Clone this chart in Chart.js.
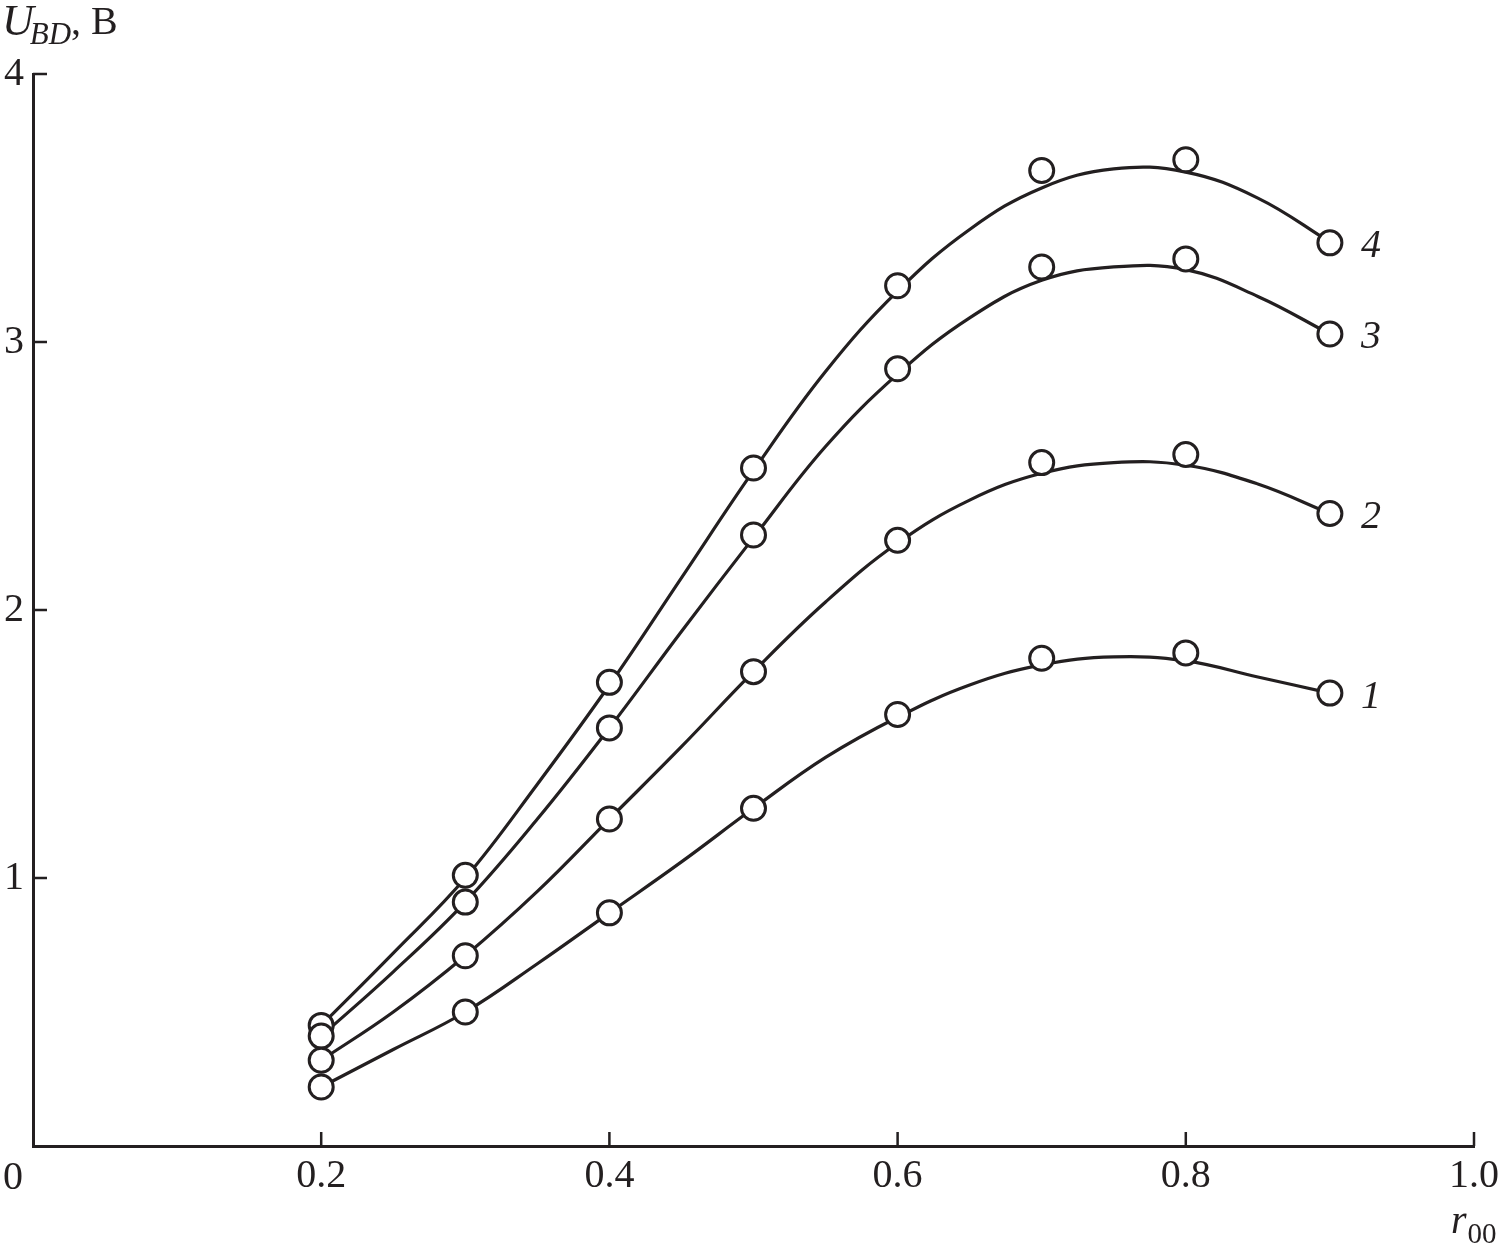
<!DOCTYPE html>
<html>
<head>
<meta charset="utf-8">
<script src="https://cdn.jsdelivr.net/npm/chart.js@4.4.1/dist/chart.umd.min.js"></script>
<style>
  html, body { margin: 0; padding: 0; background: #fff; }
  canvas { display: block; }
</style>
</head>
<body>
<canvas id="chart" width="1499" height="1254"></canvas>
<script>
// --- data ---
const xMeasured = [0.2, 0.3, 0.4, 0.5, 0.6, 0.7, 0.8, 0.9];
const measured1 = [0.22, 0.50, 0.87, 1.26, 1.61, 1.82, 1.84, 1.69];
const measured2 = [0.32, 0.71, 1.22, 1.77, 2.26, 2.55, 2.58, 2.36];
const measured3 = [0.41, 0.91, 1.56, 2.28, 2.90, 3.28, 3.31, 3.03];
const measured4 = [0.45, 1.01, 1.73, 2.53, 3.21, 3.64, 3.68, 3.37];

// fitted curves
const xFit = [0.2, 0.25, 0.3, 0.35, 0.4, 0.45, 0.5, 0.55, 0.6, 0.65, 0.7, 0.75, 0.8, 0.85, 0.9];
const fit1 = [0.22, 0.36, 0.50, 0.68, 0.87, 1.06, 1.26, 1.45, 1.60, 1.72, 1.795, 1.825, 1.81, 1.75, 1.69];
const fit2 = [0.32, 0.50, 0.71, 0.95, 1.22, 1.49, 1.77, 2.03, 2.25, 2.41, 2.51, 2.55, 2.54, 2.47, 2.36];
const fit3 = [0.41, 0.65, 0.91, 1.22, 1.56, 1.92, 2.27, 2.61, 2.88, 3.09, 3.23, 3.28, 3.27, 3.17, 3.03];
const fit4 = [0.45, 0.72, 1.00, 1.35, 1.72, 2.12, 2.52, 2.89, 3.19, 3.42, 3.575, 3.646, 3.634, 3.537, 3.373];

const curveNames = ["1", "2", "3", "4"];
const xTicks = [0.2, 0.4, 0.6, 0.8, 1.0];
const yTicks = [1, 2, 3, 4];

const INK = "#231f20";
const FONT = "'Liberation Serif', 'DejaVu Serif', serif";

const toXY = (xs, ys) => xs.map((x, i) => ({ x: x, y: ys[i] }));

const measured = [measured1, measured2, measured3, measured4];
const fits = [fit1, fit2, fit3, fit4];

const datasets = [];
measured.forEach((m, i) => {
  datasets.push({
    label: "точки " + curveNames[i],
    data: toXY(xMeasured, m),
    showLine: false,
    pointRadius: 12,
    pointBorderWidth: 3,
    pointBackgroundColor: "#fff",
    pointBorderColor: INK,
    order: 0
  });
});
fits.forEach((f, i) => {
  datasets.push({
    label: curveNames[i],
    data: toXY(xFit, f),
    showLine: true,
    borderColor: INK,
    borderWidth: 3.2,
    pointRadius: 0,
    tension: 0.4,
    order: 1
  });
});

// inward ticks, curve numbers, axis titles and the origin "0"
const decorations = {
  id: "decorations",
  afterDraw(chart) {
    const ctx = chart.ctx;
    const xs = chart.scales.x, ys = chart.scales.y;
    const area = chart.chartArea;
    ctx.save();
    ctx.strokeStyle = INK;
    ctx.lineWidth = 2.5;
    ctx.beginPath();
    yTicks.forEach(v => {
      const py = ys.getPixelForValue(v);
      ctx.moveTo(area.left, py);
      ctx.lineTo(area.left + 14, py);
    });
    xTicks.forEach(v => {
      const px = xs.getPixelForValue(v);
      ctx.moveTo(px, area.bottom);
      ctx.lineTo(px, area.bottom - 14);
    });
    ctx.stroke();

    ctx.fillStyle = INK;
    ctx.textBaseline = "middle";
    ctx.textAlign = "left";
    ctx.font = "italic 40px " + FONT;
    const lastX = xMeasured[xMeasured.length - 1];
    measured.forEach((m, i) => {
      const px = xs.getPixelForValue(lastX) + 31;
      const py = ys.getPixelForValue(m[m.length - 1]) + 4;
      ctx.fillText(curveNames[i], px, py);
    });

    // origin
    ctx.textAlign = "center";
    ctx.textBaseline = "alphabetic";
    ctx.font = "40px " + FONT;
    ctx.fillText("0", 13, 1189);

    // y title: U_BD, В
    ctx.textAlign = "left";
    ctx.font = "italic 44px " + FONT;
    ctx.fillText("U", 2, 35);
    let w = ctx.measureText("U").width;
    ctx.font = "italic 31px " + FONT;
    ctx.fillText("BD", 2 + w - 4, 44);
    let w2 = ctx.measureText("BD").width;
    ctx.font = "40px " + FONT;
    ctx.fillText(", В", 2 + w - 4 + w2, 34);

    // x title: r_00
    ctx.font = "italic 40px " + FONT;
    ctx.fillText("r", 1451, 1233);
    w = ctx.measureText("r").width;
    ctx.font = "29px " + FONT;
    ctx.fillText("00", 1451 + w + 1, 1243);
    ctx.restore();
  }
};

new Chart(document.getElementById("chart"), {
  type: "line",
  data: { datasets: datasets },
  options: {
    responsive: false,
    animation: false,
    events: [],
    layout: { padding: { top: 74, right: 25, left: 0, bottom: 0 } },
    plugins: { legend: { display: false }, tooltip: { enabled: false } },
    scales: {
      x: {
        type: "linear",
        min: 0, max: 1,
        afterBuildTicks: s => { s.ticks = xTicks.map(v => ({ value: v })); },
        afterFit: s => { s.height = 108; s.paddingRight = 0; s.paddingLeft = 0; },
        grid: { display: false, drawTicks: false },
        border: { display: true, color: INK, width: 3 },
        ticks: {
          padding: 6,
          color: INK,
          font: { family: FONT, size: 40 },
          maxRotation: 0,
          autoSkip: false,
          callback: v => v.toFixed(1)
        }
      },
      y: {
        type: "linear",
        min: 0, max: 4,
        afterBuildTicks: s => { s.ticks = yTicks.map(v => ({ value: v })); },
        afterFit: s => { s.width = 33; s.paddingTop = 0; s.paddingBottom = 0; },
        grid: { display: false, drawTicks: false },
        border: { display: true, color: INK, width: 3 },
        ticks: {
          padding: 9,
          color: INK,
          font: { family: FONT, size: 40 },
          autoSkip: false,
          callback: v => String(v)
        }
      }
    }
  },
  plugins: [decorations]
});
</script>
</body>
</html>
